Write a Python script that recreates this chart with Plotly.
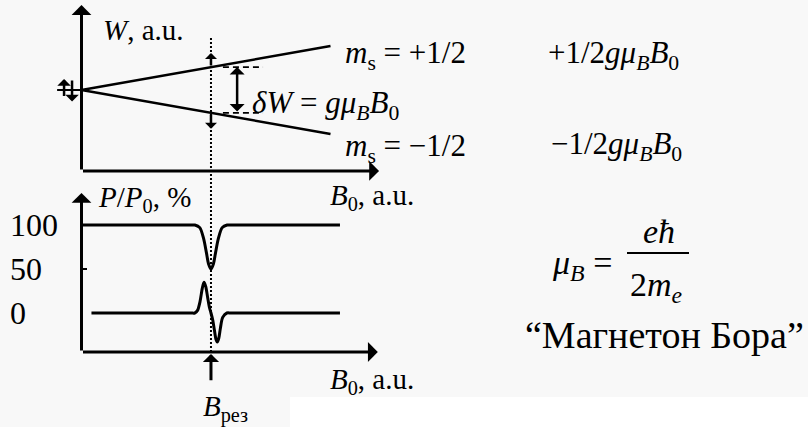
import plotly.graph_objects as go

# ---- data (arbitrary units) ----
b_levels = [0.0, 1.0]          # B0 range of the Zeeman level lines
w_plus = [0.0, 0.5]            # m_s = +1/2 level
w_minus = [0.0, -0.5]          # m_s = -1/2 level
b_res = 0.52                   # resonance field
w_res = [0.26, -0.26]          # level energies at resonance

dip_b = [0.0, 0.44, 0.455, 0.475, 0.490, 0.502, 0.510, 0.520, 0.530, 0.538,
         0.550, 0.565, 0.585, 0.60, 1.038]
dip_p = [100, 100, 100, 97, 85, 68, 56, 50, 56, 68, 85, 97, 100, 100, 100]

deriv_b = [0.04, 0.44, 0.455, 0.466, 0.476, 0.485, 0.492, 0.499, 0.507, 0.514,
           0.520, 0.527, 0.534, 0.540, 0.545, 0.551, 0.558, 0.567, 0.584, 0.60, 1.038]
deriv_p = [0, 0, 0, 3, 13, 28, 35, 30, 17, 6, 0, -8, -20, -30, -33, -29, -17, -5, 0, 0, 0]

p_ticks = [0, 50, 100]
p_tick_text = ["0", "50", "100"]

# ---- page geometry ----
W_PX, H_PX = 808, 427
X0, XS = 81.5, 249.0            # pixel of B0 = 0, pixels per unit B0
TOP_Y0, TOP_YS = 90.0, 88.0     # pixel of W = 0, pixels per unit W
BOT_Y0, BOT_YS = 313.0, 0.88    # pixel of P = 0, pixels per percent
SPLIT = 180.0                   # pixel row between the two panels
d = (H_PX - SPLIT) / H_PX

SERIF = "Liberation Serif, Times New Roman, DejaVu Serif, serif"
BLACK = "black"

x_range = [-X0 / XS, (W_PX - X0) / XS]
top_range = [(TOP_Y0 - SPLIT) / TOP_YS, TOP_Y0 / TOP_YS]
bot_range = [(BOT_Y0 - H_PX) / BOT_YS, (BOT_Y0 - SPLIT) / BOT_YS]

fig = go.Figure()

# Zeeman levels
for w in (w_plus, w_minus):
    fig.add_trace(go.Scatter(x=b_levels, y=w, mode="lines", xaxis="x", yaxis="y",
                             line=dict(color=BLACK, width=2.5), hoverinfo="skip"))

# resonance-level dashed markers
for w in w_res:
    fig.add_trace(go.Scatter(x=[0.568, 0.729], y=[w, w], mode="lines", xaxis="x", yaxis="y",
                             line=dict(color=BLACK, width=1.6, dash="6px,4px"), hoverinfo="skip"))

# spin pair symbol at zero field
fig.add_trace(go.Scatter(x=[-0.098, 0.0], y=[0.0, 0.0], mode="lines", xaxis="x", yaxis="y",
                         line=dict(color=BLACK, width=2), hoverinfo="skip"))

# absorbed power and its derivative
fig.add_trace(go.Scatter(x=dip_b, y=dip_p, mode="lines", xaxis="x2", yaxis="y2",
                         line=dict(color=BLACK, width=3, shape="spline", smoothing=0.8),
                         hoverinfo="skip"))
fig.add_trace(go.Scatter(x=deriv_b, y=deriv_p, mode="lines", xaxis="x2", yaxis="y2",
                         line=dict(color=BLACK, width=3, shape="spline", smoothing=0.8),
                         hoverinfo="skip"))

annotations = []


def arrow(panel, xt, yt, xs, ys, width=3, size=1.1, both=False):
    xr, yr = ("x", "y") if panel == "top" else ("x2", "y2")
    annotations.append(dict(
        x=xt, y=yt, ax=xs, ay=ys, xref=xr, yref=yr, axref=xr, ayref=yr,
        text="", showarrow=True, arrowhead=1, startarrowhead=1,
        arrowside="end+start" if both else "end",
        arrowsize=size, startarrowsize=size, arrowwidth=width, arrowcolor=BLACK,
        standoff=0, startstandoff=0))


def label(text, left, base, size, sub=False, family=SERIF, anchor="left"):
    cy = base - (0.22 if sub else 0.34) * size
    annotations.append(dict(
        text=text, x=left / W_PX, y=1 - cy / H_PX, xref="paper", yref="paper",
        xanchor=anchor, yanchor="middle", showarrow=False,
        font=dict(family=family, size=size, color=BLACK)))


# axes with arrow heads
arrow("top", 0, 0.966, 0, -0.92)
arrow("top", 1.195, -0.92, 0, -0.92)
arrow("bot", 0, 136.4, 0, -44.3)
arrow("bot", 1.19, -44.3, 0, -44.3)

# spin arrows at zero field
arrow("top", -0.070, 0.125, -0.070, -0.085, width=2.5, size=0.9)
arrow("top", -0.038, -0.13, -0.038, 0.125, width=2.5, size=0.9)

# spin arrows at resonance and the splitting
arrow("top", b_res, 0.42, b_res, w_res[0], width=2.5, size=0.8)
arrow("top", b_res, -0.44, b_res, w_res[1], width=2.5, size=0.8)
arrow("top", 0.625, w_res[0], 0.625, w_res[1], width=2.5, size=1.0, both=True)

# marker below the field axis
arrow("bot", b_res, -46.5, b_res, -78, width=3, size=0.9)

FA = 29   # axis captions
FS = 31   # level labels
label("<i>W</i>, a.u.", 101, 40, FA)
label("<i>m</i><sub>s</sub> = +1/2", 343, 62, FS, sub=True)
label("<i>m</i><sub>s</sub> = \u22121/2", 343, 155, FS, sub=True)
label("+1/2<i>gμ</i><sub><i>B</i></sub><i>B</i><sub>0</sub>", 546, 62, FS, sub=True)
label("\u22121/2<i>gμ</i><sub><i>B</i></sub><i>B</i><sub>0</sub>", 549, 153, FS, sub=True)
label("<i>δW</i> = <i>gμ</i><sub><i>B</i></sub><i>B</i><sub>0</sub>", 250, 112, FS, sub=True)
label("<i>B</i><sub>0</sub>, a.u.", 328, 203, FA, sub=True)
label("<i>P</i>/<i>P</i><sub>0</sub>, %", 96, 205, FA, sub=True)
label("<i>B</i><sub>0</sub>, a.u.", 328, 387, FA, sub=True)
label("<i>B</i><sub>рез</sub>", 201, 415, FA, sub=True)

# Bohr magneton
FM = 34
label("<i>μ</i><sub><i>B</i></sub> =", 550, 272, FM, sub=True)
label("<i>eħ</i>", 659, 243, FM, anchor="center")
label("2<i>m</i><sub><i>e</i></sub>", 628, 294, FM, sub=True)
label("\u201cМагнетон Бора\u201d", 523, 348, 38)

shapes = [
    # resonance line through both panels
    dict(type="line", xref="x", yref="paper", x0=b_res, x1=b_res,
         y0=1 - 352 / H_PX, y1=1 - 38 / H_PX,
         line=dict(color=BLACK, width=2, dash="2px,2px"), layer="below"),
    # tick at 50 %
    dict(type="line", xref="x2", yref="y2", x0=0, x1=0.022, y0=50, y1=50,
         line=dict(color=BLACK, width=2)),
    # fraction bar
    dict(type="line", xref="paper", yref="paper", x0=627 / W_PX, x1=689 / W_PX,
         y0=1 - 253 / H_PX, y1=1 - 253 / H_PX, line=dict(color=BLACK, width=2)),
    # white strip at the bottom right
    dict(type="rect", xref="paper", yref="paper", x0=290 / W_PX, x1=1,
         y0=0, y1=1 - 397 / H_PX, fillcolor="white", line=dict(width=0), layer="below"),
]

hidden = dict(visible=False, fixedrange=True)
fig.update_layout(
    width=W_PX, height=H_PX, margin=dict(l=0, r=0, t=0, b=0),
    paper_bgcolor="#f8f8f8", plot_bgcolor="rgba(0,0,0,0)",
    showlegend=False, hovermode=False,
    xaxis=dict(hidden, range=x_range, domain=[0, 1], anchor="y"),
    yaxis=dict(hidden, range=top_range, domain=[d, 1], anchor="x"),
    xaxis2=dict(hidden, range=x_range, domain=[0, 1], anchor="y2"),
    yaxis2=dict(range=bot_range, domain=[0, d], anchor="free", position=9 / W_PX,
                side="right", tickvals=p_ticks, ticktext=p_tick_text, ticks="",
                showline=False, showgrid=False, zeroline=False, fixedrange=True,
                tickfont=dict(family=SERIF, size=32, color=BLACK)),
    annotations=annotations, shapes=shapes,
)

fig.write_html("out.html")
